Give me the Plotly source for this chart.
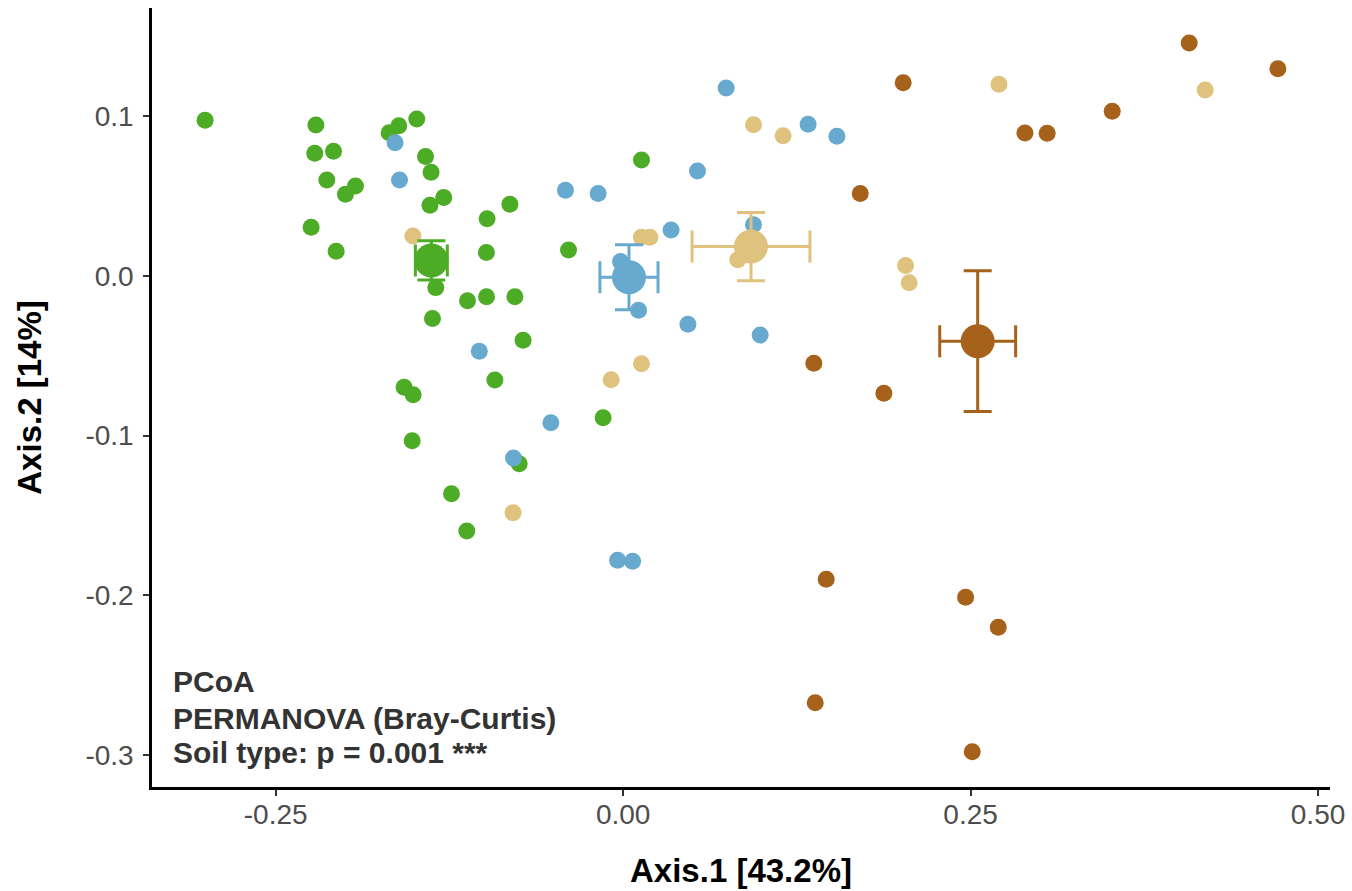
import plotly.graph_objects as go

# ---- data (PCoA axis scores) ----
green_x = [-0.3008, -0.2211, -0.2219, -0.2084, -0.2132, -0.1926, -0.1998, -0.2245, -0.2065,
           -0.1485, -0.1614, -0.1684, -0.1422, -0.1382, -0.1291, -0.1390, -0.1348, -0.1372,
           -0.0979, -0.0815, -0.0984, -0.0393, -0.1120, -0.0983, -0.0779, -0.0720, 0.0132,
           -0.0923, -0.1576, -0.1511, -0.0144, -0.1518, -0.0748, -0.1235, -0.1125]
green_y = [0.0976, 0.0946, 0.0769, 0.0781, 0.0602, 0.0564, 0.0512, 0.0305, 0.0155,
           0.0984, 0.0941, 0.0897, 0.0749, 0.0650, 0.0492, 0.0443, -0.0073, -0.0266,
           0.0359, 0.0449, 0.0147, 0.0163, -0.0155, -0.0130, -0.0130, -0.0403, 0.0727,
           -0.0652, -0.0697, -0.0744, -0.0888, -0.1032, -0.1176, -0.1364, -0.1598]

blue_x = [-0.1641, -0.1609, -0.0415, -0.0180, 0.0345, -0.0019, 0.0111, -0.1035, -0.0520,
          -0.0789, -0.0040, 0.0068, 0.0741, 0.1331, 0.1538, 0.0535, 0.0938, 0.0466, 0.0986]
blue_y = [0.0835, 0.0602, 0.0537, 0.0516, 0.0288, 0.0091, -0.0215, -0.0472, -0.0919,
          -0.1140, -0.1781, -0.1788, 0.1178, 0.0950, 0.0875, 0.0658, 0.0321, -0.0303, -0.0370]

tan_x = [-0.1513, 0.0131, 0.0192, -0.0086, 0.0132, -0.0792, 0.0938, 0.1151, 0.2704,
         0.4188, 0.2032, 0.2058, 0.0825]
tan_y = [0.0251, 0.0243, 0.0243, -0.0650, -0.0550, -0.1483, 0.0948, 0.0879, 0.1201,
         0.1165, 0.0065, -0.0043, 0.0102]

brown_x = [0.2015, 0.4073, 0.4711, 0.2891, 0.3051, 0.3519, 0.1706, 0.1372, 0.1876,
           0.1461, 0.2464, 0.2699, 0.1382, 0.2512]
brown_y = [0.1211, 0.1460, 0.1299, 0.0896, 0.0894, 0.1032, 0.0516, -0.0547, -0.0735,
           -0.1900, -0.2013, -0.2201, -0.2674, -0.2981]

# group centroids and their error (half-widths)
centroid_x = [-0.1380, 0.0042, 0.0920, 0.2551]
centroid_y = [0.0097, -0.0008, 0.0184, -0.0409]
centroid_ex = [0.0115, 0.0209, 0.0424, 0.0273]
centroid_ey = [0.0123, 0.0204, 0.0214, 0.0441]

colors = ["#4DAC26", "#67A9CF", "#DFC27D", "#A6611A"]

x_ticks = [-0.25, 0.0, 0.25, 0.50]
x_tick_labels = ["-0.25", "0.00", "0.25", "0.50"]
y_ticks = [-0.3, -0.2, -0.1, 0.0, 0.1]
y_tick_labels = ["-0.3", "-0.2", "-0.1", "0.0", "0.1"]

annotation_lines = ["PCoA", "PERMANOVA (Bray-Curtis)", "Soil type: p = 0.001 ***"]

FONT = "Liberation Sans, Arial, Helvetica, sans-serif"

fig = go.Figure()

groups = [(brown_x, brown_y, colors[3]), (tan_x, tan_y, colors[2]),
          (green_x, green_y, colors[0]), (blue_x, blue_y, colors[1])]
for gx, gy, c in groups:
    fig.add_trace(go.Scatter(x=gx, y=gy, mode="markers",
                             marker=dict(size=17, color=c, line=dict(width=0)),
                             showlegend=False, hoverinfo="x+y"))

for i in range(4):
    fig.add_trace(go.Scatter(
        x=[centroid_x[i]], y=[centroid_y[i]], mode="markers",
        marker=dict(size=34, color=colors[i], line=dict(width=0)),
        error_x=dict(type="data", array=[centroid_ex[i]], color=colors[i], thickness=3, width=16),
        error_y=dict(type="data", array=[centroid_ey[i]], color=colors[i], thickness=3, width=14),
        showlegend=False))

ann_y = [0.135, 0.088, 0.044]
for txt, yy in zip(annotation_lines, ann_y):
    fig.add_annotation(text="<b>%s</b>" % txt, xref="paper", yref="paper",
                       x=0.016, y=yy, xanchor="left", yanchor="middle", showarrow=False,
                       font=dict(family=FONT, size=30, color="#333333"))

fig.update_layout(
    width=1352, height=891,
    margin=dict(l=152, r=22, t=8, b=104),
    paper_bgcolor="white", plot_bgcolor="white",
    showlegend=False,
    font=dict(family=FONT),
)
fig.update_xaxes(
    range=[-0.339, 0.5086], tickvals=x_ticks, ticktext=x_tick_labels,
    showgrid=False, zeroline=False, showline=True, linecolor="black", linewidth=2.5,
    ticks="outside", ticklen=6, tickwidth=2, tickcolor="#333333", ticklabelstandoff=-5,
    tickfont=dict(family=FONT, size=28, color="#4D4D4D"),
    title=dict(text="<b>Axis.1 [43.2%]</b>", font=dict(family=FONT, size=33, color="black"), standoff=30),
)
fig.update_yaxes(
    range=[-0.3202, 0.1679], tickvals=y_ticks, ticktext=y_tick_labels,
    showgrid=False, zeroline=False, showline=True, linecolor="black", linewidth=2.5,
    ticks="outside", ticklen=6, tickwidth=2, tickcolor="#333333", ticklabelstandoff=4,
    tickfont=dict(family=FONT, size=28, color="#4D4D4D"),
    title=dict(text="<b>Axis.2 [14%]</b>", font=dict(family=FONT, size=33, color="black"), standoff=34),
)

fig.write_html("out.html")
